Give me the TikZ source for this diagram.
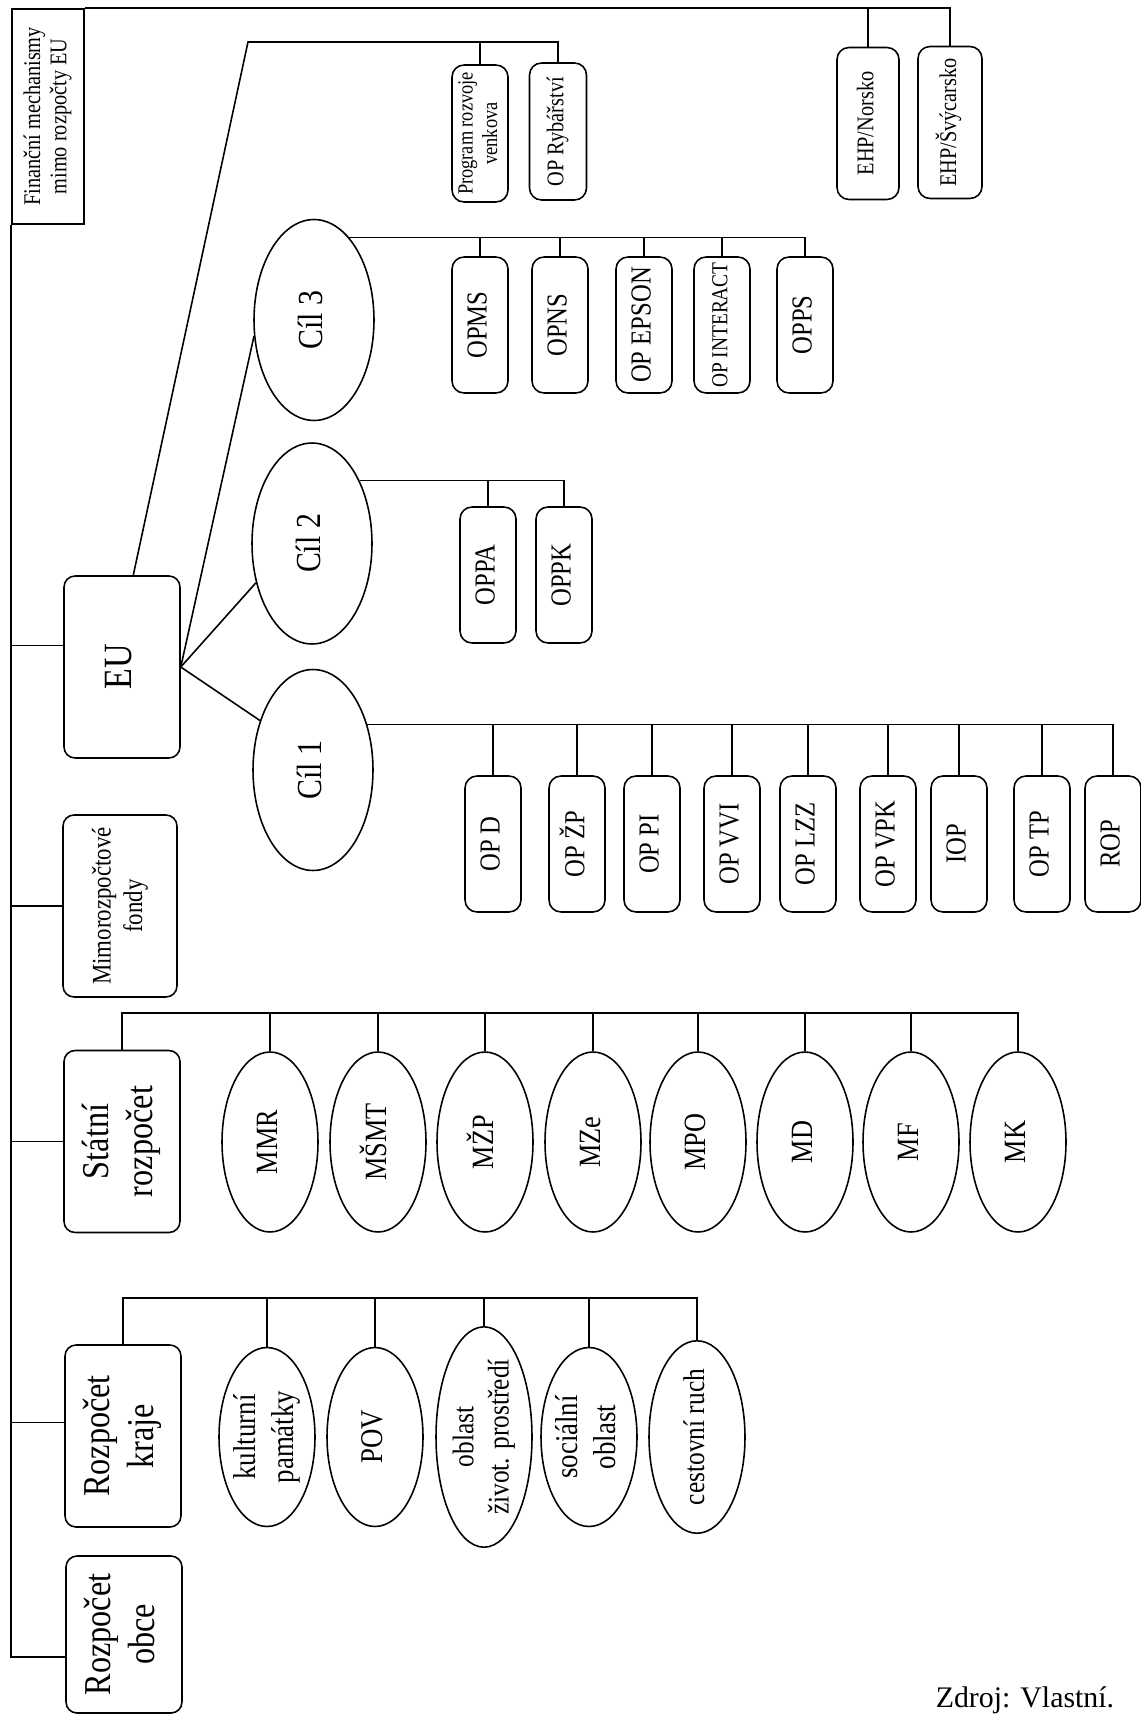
\documentclass[tikz,border=0pt]{standalone}
\usepackage{fontspec}
\setmainfont{Liberation Serif}[FakeStretch=0.85]
\newfontfamily\srcfont{Liberation Serif}
\usepackage{graphicx}
\usetikzlibrary{shapes.geometric}

\newcommand{\vtext}[1]{\rotatebox{90}{\begin{tabular}{@{}c@{}}#1\end{tabular}}}
\newcommand{\fsz}[2]{\fontsize{#1}{#2}\selectfont}

\tikzset{
  bigbox/.style={draw, rounded corners=0.22cm, minimum width=2.32cm, minimum height=3.64cm, inner sep=1pt, font=\fsz{21.6}{25}},
  opbox/.style={draw, rounded corners=0.24cm, minimum width=1.12cm, minimum height=2.72cm, inner sep=1pt, font=\fsz{16.5}{19}},
  ehpbox/.style={draw, rounded corners=0.24cm, minimum width=1.24cm, minimum height=3.04cm, inner sep=1pt, font=\fsz{13.6}{15.6}},
  cil/.style={draw, ellipse, minimum width=2.4cm, minimum height=4.02cm, inner sep=0pt, font=\fsz{20}{23}},
  resort/.style={draw, ellipse, minimum width=1.92cm, minimum height=3.6cm, inner sep=0pt, font=\fsz{17.6}{20}},
  oblast/.style={draw, ellipse, minimum width=1.92cm, minimum height=3.58cm, inner sep=0pt, inner xsep=-4pt, font=\fsz{18}{21.6}},
}

\begin{document}
\begin{tikzpicture}[x=0.02cm, y=-0.02cm, line width=0.9pt]
\useasboundingbox (0,0) rectangle (1141,1716);

% hlavni zdroje
\node[draw, minimum width=1.44cm, minimum height=4.3cm, inner sep=1pt, font=\fsz{13.6}{15}] (fin) at (48,116.5) {\vtext{Finanční mechanismy\\mimo rozpočty EU}};
\node[bigbox, font=\fsz{22.8}{26}] (eu) at (122,667) {\vtext{EU}};
\node[bigbox, minimum width=2.28cm, font=\fsz{15.3}{18}] (mimo) at (120,906) {\vtext{Mimorozpočtové\\fondy}};
\node[bigbox] (stat) at (122,1141.5) {\vtext{Státní\\rozpočet}};
\node[bigbox] (kraje) at (123,1436) {\vtext{Rozpočet\\kraje}};
\node[bigbox, minimum height=3.14cm] (obce) at (124,1634.5) {\vtext{Rozpočet\\obce}};

% mimo rozpocty EU
\node[ehpbox] (ehpn) at (868,123.5) {\vtext{EHP/Norsko}};
\node[ehpbox, minimum width=1.28cm] (ehps) at (950,122.5) {\vtext{EHP/Švýcarsko}};

% EU
\node[ehpbox, minimum width=1.12cm, minimum height=2.74cm, font=\fsz{12.3}{14}] (prv) at (480,133.5) {\vtext{Program rozvoje\\venkova}};
\node[ehpbox, minimum width=1.14cm, minimum height=2.74cm] (ryb) at (558,131.5) {\vtext{OP Rybářství}};
\node[cil] (cil3) at (314,320) {\vtext{Cíl 3}};
\node[cil] (cil2) at (312,543.5) {\vtext{Cíl 2}};
\node[cil] (cil1) at (313,770) {\vtext{Cíl 1}};

% Cil 3
\node[opbox] (opms) at (480,325) {\vtext{OPMS}};
\node[opbox] (opns) at (560,325) {\vtext{OPNS}};
\node[opbox] (epson) at (644,325) {\vtext{OP EPSON}};
\node[opbox, font=\fsz{13}{15}] (interact) at (722,325) {\vtext{OP INTERACT}};
\node[opbox] (opps) at (805,325) {\vtext{OPPS}};

% Cil 2
\node[opbox] (oppa) at (488,575) {\vtext{OPPA}};
\node[opbox] (oppk) at (564,575) {\vtext{OPPK}};

% Cil 1
\node[opbox] (opd) at (493,844) {\vtext{OP D}};
\node[opbox] (opzp) at (577,844) {\vtext{OP ŽP}};
\node[opbox] (oppi) at (652,844) {\vtext{OP PI}};
\node[opbox] (opvvi) at (732,844) {\vtext{OP VVI}};
\node[opbox] (oplzz) at (808,844) {\vtext{OP LZZ}};
\node[opbox] (opvpk) at (888,844) {\vtext{OP VPK}};
\node[opbox] (iop) at (959,844) {\vtext{IOP}};
\node[opbox] (optp) at (1042,844) {\vtext{OP TP}};
\node[opbox] (rop) at (1113,844) {\vtext{ROP}};

% statni rozpocet
\node[resort] (mmr) at (270,1142) {\vtext{MMR}};
\node[resort] (msmt) at (378,1142) {\vtext{MŠMT}};
\node[resort] (mzp) at (485,1142) {\vtext{MŽP}};
\node[resort] (mze) at (593,1142) {\vtext{MZe}};
\node[resort] (mpo) at (698,1142) {\vtext{MPO}};
\node[resort] (md) at (805,1142) {\vtext{MD}};
\node[resort] (mf) at (911,1142) {\vtext{MF}};
\node[resort] (mk) at (1018,1142) {\vtext{MK}};

% rozpocet kraje
\node[oblast] (kult) at (267,1437) {\vtext{kulturní\\památky}};
\node[oblast] (pov) at (375,1437) {\vtext{POV}};
\node[oblast, font=\fsz{17}{20}] (ziv) at (484,1437) {\vtext{oblast\\život. prostředí}};
\node[oblast] (soc) at (589,1437) {\vtext{sociální\\oblast}};
\node[oblast, font=\fsz{17}{20}] (ruch) at (697,1437) {\vtext{cestovní ruch}};

\node[anchor=base west, font=\srcfont\fsz{17}{20}, inner sep=0pt] (zdroj) at (935,1707) {Zdroj: Vlastní.};

% kmen
\draw (fin.north east) -| (ehps.north);
\draw (ehpn.north) -- (ehpn.north |- fin.north);
\draw (fin.south west) |- (obce.201);
\draw (eu.160) -- (eu.160 -| fin.west);
\draw (mimo.west) -- (mimo.west -| fin.west);
\draw (stat.west) -- (stat.west -| fin.west);
\draw (kraje.167) -- (kraje.167 -| fin.west);

% EU
\coordinate (eubend) at (248,42);
\draw (eu.83) -- (eubend) -| (ryb.north);
\draw (prv.north) -- (prv.north |- eubend);
\draw (eu.east) -- (cil1.137);
\draw (eu.east) -- (cil2.215);
\draw (eu.east) -- (cil3.195);

\draw (cil3.67) -| (opps.north);
\draw (opms.north) -- (opms.north |- cil3.67);
\draw (opns.north) -- (opns.north |- cil3.67);
\draw (epson.north) -- (epson.north |- cil3.67);
\draw (interact.north) -- (interact.north |- cil3.67);

\draw (cil2.53) -| (oppk.north);
\draw (oppa.north) -- (oppa.north |- cil2.53);

\draw (cil1.40) -| (rop.north);
\draw (opd.north) -- (opd.north |- cil1.40);
\draw (opzp.north) -- (opzp.north |- cil1.40);
\draw (oppi.north) -- (oppi.north |- cil1.40);
\draw (opvvi.north) -- (opvvi.north |- cil1.40);
\draw (oplzz.north) -- (oplzz.north |- cil1.40);
\draw (opvpk.north) -- (opvpk.north |- cil1.40);
\draw (iop.north) -- (iop.north |- cil1.40);
\draw (optp.north) -- (optp.north |- cil1.40);

% statni rozpocet
\coordinate (sbus) at (122,1013);
\draw (stat.north) -- (sbus) -| (mk.north);
\draw (mmr.north) -- (mmr.north |- sbus);
\draw (msmt.north) -- (msmt.north |- sbus);
\draw (mzp.north) -- (mzp.north |- sbus);
\draw (mze.north) -- (mze.north |- sbus);
\draw (mpo.north) -- (mpo.north |- sbus);
\draw (md.north) -- (md.north |- sbus);
\draw (mf.north) -- (mf.north |- sbus);

% rozpocet kraje
\coordinate (kbus) at (123,1298);
\draw (kraje.north) -- (kbus) -| (ruch.north);
\draw (kult.north) -- (kult.north |- kbus);
\draw (pov.north) -- (pov.north |- kbus);
\draw (ziv.north) -- (ziv.north |- kbus);
\draw (soc.north) -- (soc.north |- kbus);

\end{tikzpicture}
\end{document}
